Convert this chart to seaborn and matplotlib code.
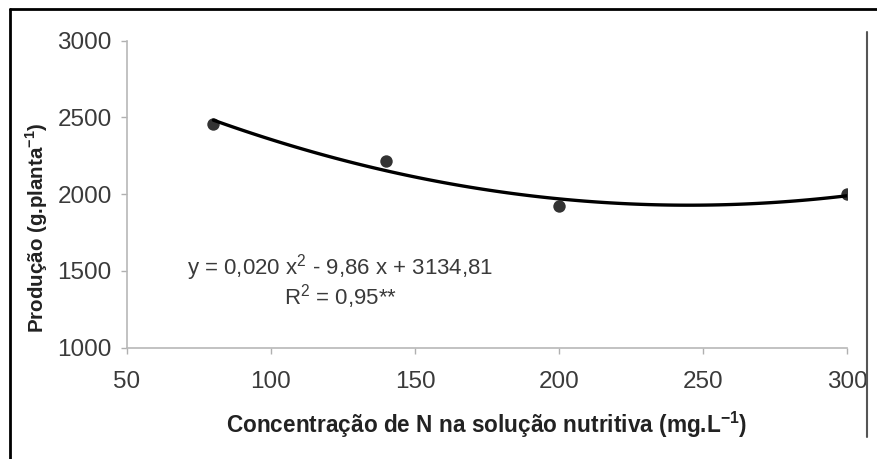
import matplotlib
matplotlib.use("Agg")
import matplotlib.pyplot as plt
import seaborn as sns
import pandas as pd
from matplotlib.lines import Line2D

# Data
concentracao = [80, 140, 200, 300]
producao = [2460, 2215, 1920, 2000]
x_ticks = [50, 100, 150, 200, 250, 300]
y_ticks = [1000, 1500, 2000, 2500, 3000]
equacao = "y = 0,020 x$^2$ - 9,86 x + 3134,81"
r2_text = "R$^2$ = 0,95**"

df = pd.DataFrame({"x": concentracao, "y": producao})

sns.set_theme(style="white")
plt.rcParams["font.family"] = ["Liberation Sans", "DejaVu Sans"]
plt.rcParams["mathtext.fontset"] = "custom"
plt.rcParams["mathtext.rm"] = "Liberation Sans"
plt.rcParams["mathtext.bf"] = "Liberation Sans:bold"

fig = plt.figure(figsize=(8.77, 4.59), dpi=100)
ax = fig.add_axes([0.1448, 0.2425, 0.821, 0.6688])

sns.regplot(data=df, x="x", y="y", order=2, ci=None, ax=ax,
            scatter_kws=dict(s=80, color="black", zorder=3, linewidths=0),
            line_kws=dict(color="black", lw=2.4))

ax.set_xlim(50, 300)
ax.set_ylim(1000, 3000)
ax.set_xticks(x_ticks)
ax.set_yticks(y_ticks)
ax.tick_params(axis="both", labelsize=17.5, colors="#b0b0b0", labelcolor="#3a3a3a",
               length=4, width=1, direction="out", bottom=True, left=True, pad=7)
ax.tick_params(axis="x", pad=13)
for side in ["top", "right"]:
    ax.spines[side].set_visible(False)
for side in ["left", "bottom"]:
    ax.spines[side].set_color("#b8b8b8")
    ax.spines[side].set_linewidth(1.2)

ax.set_xlabel("Concentração de N na solução nutritiva (mg.L$^{\\mathbf{-1}}$)",
              fontsize=16.3, fontweight="bold", color="#222222", labelpad=12)
ax.set_ylabel("Produção (g.planta$^{\\mathbf{-1}}$)",
              fontsize=14.8, fontweight="bold", color="#222222")
ax.yaxis.set_label_coords(-0.107, 0.39)

ax.text(0.296, 0.26, equacao, transform=ax.transAxes, ha="center", va="center",
        fontsize=16, color="#3a3a3a")
ax.text(0.296, 0.168, r2_text, transform=ax.transAxes, ha="center", va="center",
        fontsize=16, color="#3a3a3a")

# Outer frame lines (scan border)
W, H = 877, 459
fig.add_artist(Line2D([10 / W, 1.0], [1 - 9 / H, 1 - 9 / H], color="black", lw=2,
                      transform=fig.transFigure))
fig.add_artist(Line2D([10 / W, 10 / W], [1 - 9 / H, 0.0], color="black", lw=2,
                      transform=fig.transFigure))
fig.add_artist(Line2D([867 / W, 867 / W], [1 - 32 / H, 1 - 437 / H], color="#555555",
                      lw=1.5, transform=fig.transFigure))

fig.savefig("out.png", dpi=100)
